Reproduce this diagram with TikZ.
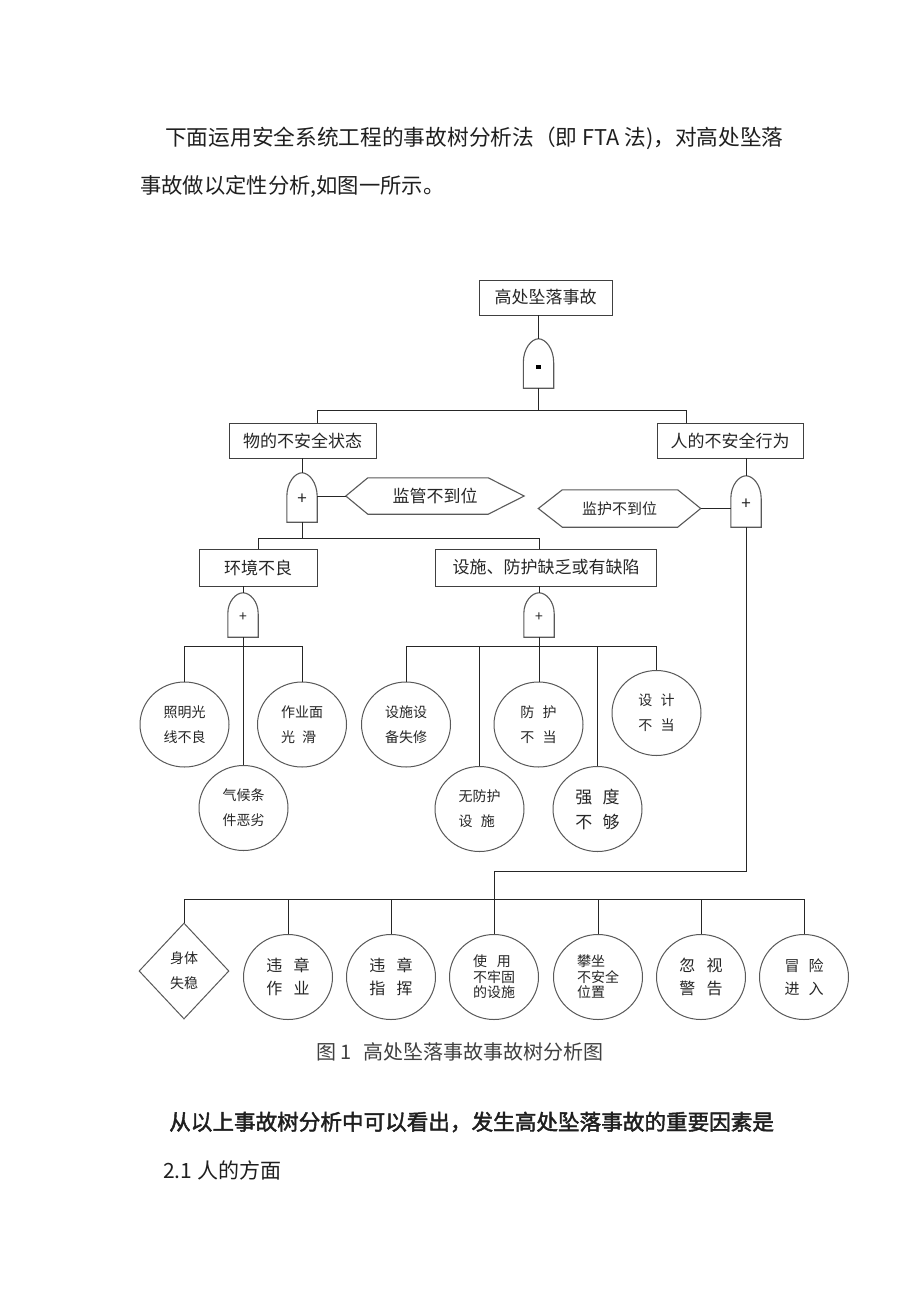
\documentclass[tikz,border=0pt]{standalone}
\usepackage{fontspec}
\setmainfont{Noto Sans CJK SC}
\newfontfamily\cjkbold[FakeBold=2]{Noto Sans CJK SC}
\usetikzlibrary{shapes.geometric}
\newcommand\drawgate[2]{%
  \draw[gateline] (#1.south west) -- ([yshift=-#2]#1.north west)
    .. controls ([yshift=-#2*0.4]#1.north west) and ([xshift=-7pt]#1.north) .. (#1.north)
    .. controls ([xshift=7pt]#1.north) and ([yshift=-#2*0.4]#1.north east) .. ([yshift=-#2]#1.north east)
    -- (#1.south east) -- cycle;}
\newcommand\drawhex[3]{%
  \draw[gateline] (#1.west) -- ([xshift=#2]#1.north west) -- ([xshift=-#3]#1.north east)
    -- (#1.east) -- ([xshift=-#3]#1.south east) -- ([xshift=#2]#1.south west) -- cycle;}
\begin{document}
\begin{tikzpicture}[x=1pt,y=-1pt,
  conn/.style={draw=black!85, line width=0.9pt},
  gateline/.style={draw=black!65, line width=1.1pt},
  evbox/.style={draw=black!75, line width=0.9pt, rectangle, inner sep=0pt, text=black!85,
    font=\fontsize{17}{20}\selectfont},
  basic/.style={draw=black!65, line width=1pt, ellipse, minimum width=89pt, minimum height=85pt,
    inner sep=0pt, align=center, text=black!85, font=\fontsize{14}{25}\selectfont},
  gatebox/.style={inner sep=0pt, minimum width=30pt, minimum height=#1},
  hexbox/.style={inner sep=0pt, text=black!85},
  gsym/.style={inner sep=0pt, font=\fontsize{17}{17}\selectfont, text=black!85},
  para/.style={anchor=west, inner sep=0pt, text=black!88},
]
\fill[white] (0,0) rectangle (920,1302);

% paragraph text
\node[para, font=\fontsize{21.7}{26}\selectfont] (p1) at (165,138) {下面运用安全系统工程的事故树分析法（即 FTA 法)，对高处坠落};
\node[para, font=\fontsize{21.3}{26}\selectfont] (p2) at (140,186) {事故做以定性分析,如图一所示。};

% top event and AND gate
\node[evbox, minimum width=133pt, minimum height=35pt] (top) at (545.5,297.5) {高处坠落事故};
\node[gatebox=49pt] (g1) at (538.5,363.5) {};
\drawgate{g1}{24}
\node[rectangle, fill=black, inner sep=0pt, minimum size=4.5pt] (g1s) at ([yshift=-3.5pt]g1.center) {};

\coordinate (b1l) at (317,410);
\coordinate (b1r) at (686,410);
\node[evbox, minimum width=147pt, minimum height=35pt] (wu) at (302.5,440.5) {物的不安全状态};
\node[evbox, minimum width=146pt, minimum height=35pt] (ren) at (730,440.5) {人的不安全行为};
\draw[conn] (top.south -| g1.north) -- (g1.north);
\draw[conn] (g1.south) -- (g1.south |- b1l);
\draw[conn] (wu.north -| b1l) -- (b1l) -- (b1r) -- (ren.north -| b1r);

% second level gates and conditions
\node[gatebox=49pt] (g2) at (302,497.5) {};
\drawgate{g2}{24}
\node[gsym] (g2s) at ([yshift=-2pt]g2.center) {+};
\node[hexbox, minimum width=178pt, minimum height=36pt, font=\fontsize{17}{20}\selectfont] (hx1) at (435,496) {监管不到位};
\drawhex{hx1}{22pt}{36pt}
\node[gatebox=51pt] (g3) at (746,501.5) {};
\drawgate{g3}{23}
\node[gsym] (g3s) at ([yshift=-3pt]g3.center) {+};
\node[hexbox, minimum width=162pt, minimum height=37pt, font=\fontsize{15}{18}\selectfont] (hx2) at (619.5,508.5) {监护不到位};
\drawhex{hx2}{24pt}{23pt}
\draw[conn] (wu.south -| g2.north) -- (g2.north);
\draw[conn] (g2.east |- hx1.west) -- (hx1.west);
\draw[conn] (ren.south -| g3.north) -- (g3.north);
\draw[conn] (hx2.east) -- (hx2.east -| g3.west);

% third level
\coordinate (b2l) at (258,538);
\coordinate (b2r) at (539,538);
\node[evbox, minimum width=118pt, minimum height=37pt] (hj) at (258,567.5) {环境不良};
\node[evbox, minimum width=221.5pt, minimum height=37pt] (ss) at (546,567.5) {设施、防护缺乏或有缺陷};
\draw[conn] (g2.south) -- (g2.south |- b2l);
\draw[conn] (hj.north -| b2l) -- (b2l) -- (b2r) -- (ss.north -| b2r);

\node[gatebox=44pt] (g4) at (243,615) {};
\drawgate{g4}{21}
\node[gsym, font=\fontsize{14}{14}\selectfont] (g4s) at ([yshift=-2pt]g4.center) {+};
\node[gatebox=44pt] (g5) at (539,615) {};
\drawgate{g5}{21}
\node[gsym, font=\fontsize{14}{14}\selectfont] (g5s) at ([yshift=-2pt]g5.center) {+};
\draw[conn] (hj.south -| g4.north) -- (g4.north);
\draw[conn] (ss.south -| g5.north) -- (g5.north);

% environment basic events
\node[basic] (c1) at (184.5,724.5) {照明光\\线不良};
\node[basic, align=left] (c2) at (302,724.5) {作业面\\光\hspace{0.5em}滑};
\node[basic] (c3) at (243.5,808) {气候条\\件恶劣};
\coordinate (b3l) at (184.5,646);
\coordinate (b3r) at (302,646);
\draw[conn] (c1.north) -- (b3l) -- (b3r) -- (c2.north);
\draw[conn] (g4.south) -- (g4.south |- c3.north);

% facility basic events
\node[basic] (d1) at (406,724.5) {设施设\\备失修};
\node[basic, align=left] (d2) at (479.5,809) {无防护\\设\hspace{0.6em}施};
\node[basic] (d3) at (538.5,724.5) {防\hspace{0.6em}护\\不\hspace{0.6em}当};
\node[basic, font=\fontsize{17}{25}\selectfont] (d4) at (597.5,809) {强\hspace{0.6em}度\\不\hspace{0.6em}够};
\node[basic] (d5) at (656.5,713) {设\hspace{0.6em}计\\不\hspace{0.6em}当};
\coordinate (b4l) at (406,646);
\coordinate (b4r) at (656.5,646);
\draw[conn] (d1.north) -- (b4l) -- (b4r) -- (d5.north);
\draw[conn] (g5.south) -- (g5.south |- d3.north);
\draw[conn] (d2.north |- b4l) -- (d2.north);
\draw[conn] (d4.north |- b4l) -- (d4.north);

% human basic events
\node[draw=black!65, line width=1pt, diamond, minimum width=90pt, minimum height=96pt, inner sep=0pt,
  align=center, text=black!85, font=\fontsize{14}{25}\selectfont] (e1) at (184,971) {身体\\失稳};
\node[basic, font=\fontsize{16}{23}\selectfont] (e2) at (288,977) {违\hspace{0.7em}章\\作\hspace{0.7em}业};
\node[basic, font=\fontsize{16}{23}\selectfont] (e3) at (391,977) {违\hspace{0.7em}章\\指\hspace{0.7em}挥};
\node[basic, align=left, font=\fontsize{14}{15.5}\selectfont] (e4) at (494,977) {使\hspace{0.7em}用\\不牢固\\的设施};
\node[basic, align=left, font=\fontsize{14}{15.5}\selectfont] (e5) at (598,977) {攀坐\\不安全\\位置};
\node[basic, font=\fontsize{16}{23}\selectfont] (e6) at (701,977) {忽\hspace{0.7em}视\\警\hspace{0.7em}告};
\node[basic, font=\fontsize{15}{23}\selectfont] (e7) at (804,977) {冒\hspace{0.6em}险\\进\hspace{0.6em}入};
\coordinate (b5l) at (184,899);
\coordinate (b5r) at (804,899);
\coordinate (k1) at (746,871);
\coordinate (k2) at (494,871);
\draw[conn] (g3.south) -- (k1) -- (k2) -- (e4.north);
\draw[conn] (e1.north) -- (b5l) -- (b5r) -- (e7.north);
\draw[conn] (e2.north |- b5l) -- (e2.north);
\draw[conn] (e3.north |- b5l) -- (e3.north);
\draw[conn] (e5.north |- b5l) -- (e5.north);
\draw[conn] (e6.north |- b5l) -- (e6.north);

% caption and following text
\node[inner sep=0pt, text=black!75, font=\fontsize{20}{24}\selectfont] (cap) at (460,1052) {图 1\hspace{0.6em}高处坠落事故事故树分析图};
\node[para, font=\fontsize{21.6}{26}\cjkbold] (p3) at (169,1122) {从以上事故树分析中可以看出，发生高处坠落事故的重要因素是};
\node[para, font=\fontsize{21}{26}\selectfont] (p4) at (163,1170) {2.1 人的方面};
\end{tikzpicture}
\end{document}
